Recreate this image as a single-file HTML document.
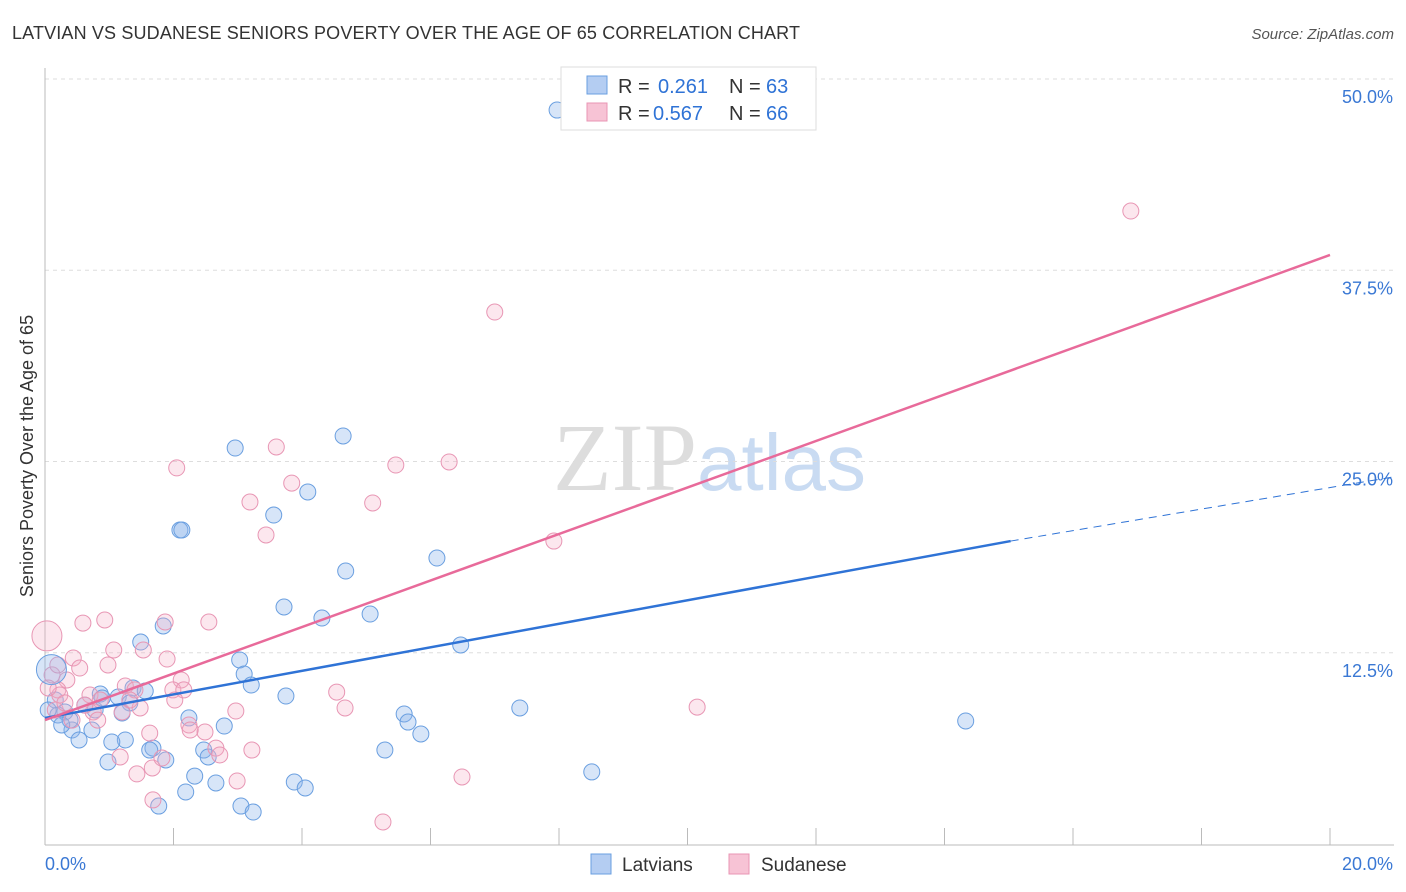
<!DOCTYPE html>
<html><head><meta charset="utf-8"><style>
body{margin:0;background:#fff;font-family:"Liberation Sans",sans-serif;}
</style></head><body>
<svg id="chart" width="1406" height="892" xmlns="http://www.w3.org/2000/svg" style="display:block">
<text x="12" y="39" font-size="18" fill="#333" textLength="788" font-family="Liberation Sans, sans-serif">LATVIAN VS SUDANESE SENIORS POVERTY OVER THE AGE OF 65 CORRELATION CHART</text>
<text x="1394" y="39" font-size="15" fill="#555" text-anchor="end" font-style="italic">Source: ZipAtlas.com</text>
<text x="553" y="490" font-size="96" fill="#ddd" font-family="Liberation Serif, serif">ZIP<tspan fill="#c9dbf2" font-family="Liberation Sans, sans-serif" font-size="80">atlas</tspan></text>
<g id="grid"></g><g id="axes"></g><g id="pts"></g><g id="lines"></g>
<text transform="translate(33,456) rotate(-90)" font-size="18" fill="#333" text-anchor="middle">Seniors Poverty Over the Age of 65</text>
<g>
<rect x="561" y="67" width="255" height="63" fill="#fff" stroke="#ddd"/>
<rect x="587" y="76" width="20" height="18" fill="#b4cdf2" stroke="#6a9fe0"/>
<rect x="587" y="103" width="20" height="18" fill="#f7c3d5" stroke="#e896b4"/>
<text x="618" y="93" font-size="20" fill="#333">R =</text>
<text x="658" y="93" font-size="20" fill="#2f73d6">0.261</text>
<text x="729" y="93" font-size="20" fill="#333">N =</text>
<text x="766" y="93" font-size="20" fill="#2f73d6">63</text>
<text x="618" y="120" font-size="20" fill="#333">R =</text>
<text x="653" y="120" font-size="20" fill="#2f73d6">0.567</text>
<text x="729" y="120" font-size="20" fill="#333">N =</text>
<text x="766" y="120" font-size="20" fill="#2f73d6">66</text>
</g>
<g>
<rect x="591" y="854" width="20" height="20" fill="#b4cdf2" stroke="#6a9fe0"/>
<text x="622" y="871" font-size="19" fill="#333">Latvians</text>
<rect x="729" y="854" width="20" height="20" fill="#f7c3d5" stroke="#e896b4"/>
<text x="761" y="871" font-size="19" fill="#333">Sudanese</text>
</g>
</svg>
<script>
const yTicks=[12.5,25,37.5,50];
const yTickLabels=["12.5%","25.0%","37.5%","50.0%"];
const xTickVals=[0,2,4,6,8,10,12,14,16,18,20];
const blueX=[7.97,4.64,2.96,4.09,3.56,2.10,2.13,6.10,4.68,3.72,5.06,4.31,1.84,1.49,6.47,3.03,3.10,3.21,1.37,0.86,1.14,1.56,3.75,0.16,1.32,0.62,0.31,5.59,7.39,14.33,2.24,2.79,5.65,1.20,0.73,0.42,5.85,1.25,1.04,0.53,1.68,1.63,2.47,5.29,2.54,1.88,0.98,2.33,8.51,3.88,2.66,4.05,2.19,3.05,3.24,1.77,0.20,0.39,0.78,0.26,0.89,0.05];
const blueY=[47.97,26.67,25.88,23.01,21.50,20.52,20.52,18.69,17.84,15.49,15.03,14.77,14.25,13.20,13.01,12.03,11.11,10.39,10.20,9.80,9.61,10.00,9.67,9.41,9.22,9.08,8.63,8.50,8.89,8.04,8.24,7.71,7.97,8.56,7.45,7.45,7.19,6.80,6.67,6.80,6.27,6.14,6.14,6.14,5.69,5.49,5.36,4.44,4.71,4.05,3.99,3.66,3.40,2.48,2.09,2.48,8.43,8.10,8.76,7.78,9.54,8.76];
const pinkX=[16.90,7.00,3.60,6.29,5.46,2.05,3.84,3.19,5.10,3.44,7.92,0.59,0.93,1.87,2.55,1.53,1.07,0.44,1.90,0.54,0.98,0.11,0.34,2.12,0.20,1.99,4.54,2.16,1.25,1.40,0.70,0.23,2.02,10.15,4.67,2.97,0.75,1.20,1.48,1.32,0.82,0.42,2.24,2.49,1.63,1.17,1.67,2.66,3.22,2.72,1.82,1.43,6.49,2.99,1.68,5.26,0.16,0.62,2.26,0.20,0.05,0.86,0.31];
const pinkY=[41.37,34.77,25.95,24.97,24.77,24.58,23.59,22.35,22.29,20.20,19.80,14.44,14.64,14.51,14.51,12.68,12.68,12.16,12.09,11.50,11.70,11.05,10.72,10.72,10.07,10.07,9.93,10.07,10.33,10.07,9.74,9.74,9.41,8.95,8.89,8.69,8.63,8.63,8.89,9.41,8.10,8.10,7.78,7.32,7.25,5.69,4.97,6.27,6.14,5.82,5.62,4.58,4.38,4.12,2.88,1.44,8.76,9.08,7.45,11.70,10.20,9.41,9.22];
const bigPts=[[0.1,11.4,'blue'],[0.03,13.6,'pink']];
const blueTrend=[[0,8.24],[15.03,19.8]], blueDash=[[15.03,19.8],[21,24.0]];
const pinkTrend=[[0,8.1],[20,38.5]];
const X=v=>45+v*64.25, Y=v=>844-v*15.3;
const NS="http://www.w3.org/2000/svg";
function mk(p,tag,a){const e=document.createElementNS(NS,tag);for(const k in a)e.setAttribute(k,a[k]);p.appendChild(e);return e;}
const grid=document.getElementById('grid'),axes=document.getElementById('axes'),pts=document.getElementById('pts'),lines=document.getElementById('lines');
yTicks.forEach((t,i)=>{
 const l=mk(grid,'line',{x1:45,x2:1394,y1:Y(t),y2:Y(t),stroke:'#ddd','stroke-dasharray':'4,4'});
 
 
 const tx=mk(axes,'text',{x:1393,y:Y(t)+24,'font-size':18,fill:'#3a78d4','text-anchor':'end'});tx.textContent=yTickLabels[i];
 
 
});
const ax=mk(axes,'line',{x1:45,x2:1394,y1:845,y2:845,stroke:'#bbb'});


const ay=mk(axes,'line',{x1:45,x2:45,y1:68,y2:845,stroke:'#bbb'});


xTickVals.forEach(t=>{const l=mk(axes,'line',{x1:X(t),x2:X(t),y1:828,y2:845,stroke:'#bbb'});
 
 });
const x0=mk(axes,'text',{x:45,y:870,'font-size':18,fill:'#3a78d4'});x0.textContent='0.0%';


const x1=mk(axes,'text',{x:1393,y:870,'font-size':18,fill:'#3a78d4','text-anchor':'end'});x1.textContent='20.0%';


const st={blue:{fill:'rgba(140,180,235,0.35)',stroke:'#6a9fe0'},pink:{fill:'rgba(245,175,200,0.3)',stroke:'#e896b4'}};
blueX.forEach((v,i)=>{const c=mk(pts,'circle',{cx:X(v),cy:Y(blueY[i]),r:8,fill:st.blue.fill,stroke:st.blue.stroke,'stroke-width':1});
 
 });
pinkX.forEach((v,i)=>{const c=mk(pts,'circle',{cx:X(v),cy:Y(pinkY[i]),r:8,fill:st.pink.fill,stroke:st.pink.stroke,'stroke-width':1});
 
 });
bigPts.forEach(p=>{const c=mk(pts,'circle',{cx:X(p[0]),cy:Y(p[1]),r:15,fill:st[p[2]].fill,stroke:st[p[2]].stroke});
 
 });
function ln(d,col,w,dash,name){const l=mk(lines,'line',{x1:X(d[0][0]),y1:Y(d[0][1]),x2:X(d[1][0]),y2:Y(d[1][1]),stroke:col,'stroke-width':w});if(dash)l.setAttribute('stroke-dasharray',dash);
 
 }
ln(blueTrend,'#2f73d6',2.5,null,'latvian-trend-line');
ln(blueDash,'#2f73d6',1,'8,6','latvian-trend-extension');
ln(pinkTrend,'#e86a9a',2.5,null,'sudanese-trend-line');
</script>
</body></html>
